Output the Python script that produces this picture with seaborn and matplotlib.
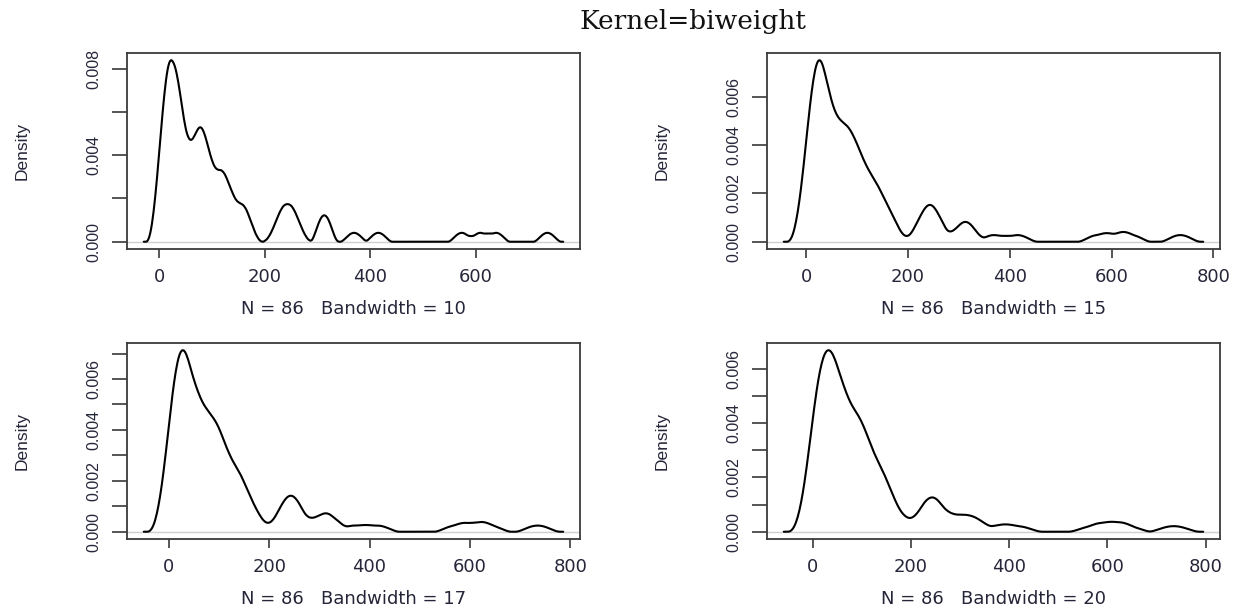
import numpy as np
import pandas as pd
import matplotlib
matplotlib.use("Agg")
import matplotlib.pyplot as plt
import seaborn as sns

# Sample of 86 observations
observations = [
    1, 2, 3, 4, 6, 8, 9,
    11, 12, 14, 15, 17, 18, 19,
    21, 22, 23, 25, 26, 27, 28, 29,
    31, 32, 34, 35, 36, 38, 39,
    41, 43, 45, 47, 49,
    52, 55, 58,
    61, 64, 67, 69,
    71, 73, 75, 77, 79,
    81, 83, 85, 87, 89,
    91, 94, 97,
    101, 106, 109,
    112, 116, 119,
    123, 126, 129,
    132, 137,
    146,
    152, 158,
    165, 170,
    222, 230, 237, 243, 249, 256, 264,
    310, 313, 315,
    369, 415,
    573, 608, 638,
    735,
]
bandwidths = [10, 15, 17, 20]
x_ticks = [0, 200, 400, 600, 800]
y_tick_steps = [0.002, 0.002, 0.001, 0.001]
y_label_every = [2, 1, 2, 2]
title = "Kernel=biweight"

sns.set_style("ticks")
plt.rcParams["font.family"] = ["DejaVu Sans"]

TEXT = "#26263a"
EDGE = "#3a3a3a"
NARROW = ["Liberation Sans", "DejaVu Sans"]


def biweight_density(data, bw, n=512):
    """Biweight kernel density, bw being the kernel's standard deviation."""
    data = np.asarray(data, dtype=float)
    half = bw * np.sqrt(7.0)
    grid = np.linspace(data.min() - 3 * bw, data.max() + 3 * bw, n)
    u = (grid[:, None] - data[None, :]) / half
    k = np.where(np.abs(u) < 1, (15.0 / 16.0) * (1 - u ** 2) ** 2, 0.0)
    return grid, k.sum(axis=1) / (len(data) * half)


W, H = 1239, 609
fig = plt.figure(figsize=(W / 100, H / 100), dpi=100)

# panel boxes in pixels: left, top, right, bottom
boxes = [
    (127, 53, 580, 249),
    (767, 53, 1220, 249),
    (127, 343, 580, 539),
    (767, 343, 1220, 539),
]

for i, (bw, box) in enumerate(zip(bandwidths, boxes)):
    l, t, r, b = box
    ax = fig.add_axes([l / W, 1 - b / H, (r - l) / W, (b - t) / H])
    grid, dens = biweight_density(observations, bw)
    df = pd.DataFrame({"x": grid, "density": dens})

    ax.axhline(0, color="#cfcfcf", lw=1.0, zorder=1)
    sns.lineplot(data=df, x="x", y="density", ax=ax, color="black",
                 lw=1.5, zorder=3)

    lo, hi = grid[0], grid[-1]
    pad = 0.04 * (hi - lo)
    ax.set_xlim(lo - pad, hi + pad)
    ymax = dens.max()
    ax.set_ylim(-0.04 * ymax, 1.04 * ymax)

    ax.set_xticks([v for v in x_ticks if lo - pad <= v <= hi + pad])
    step = y_tick_steps[i]
    n_ticks = int(np.floor(1.04 * ymax / step + 1e-9)) + 1
    yt = [k * step for k in range(n_ticks)]
    ax.set_yticks(yt)
    ax.set_yticklabels([f"{v:.3f}" if k % y_label_every[i] == 0 else ""
                        for k, v in enumerate(yt)],
                       rotation=90, va="center", family=NARROW,
                       fontsize=11.5, color=TEXT)
    for lab in ax.get_xticklabels():
        lab.set_fontsize(13)
        lab.set_color(TEXT)

    ax.tick_params(axis="x", direction="out", length=6.5, width=1.2,
                   color=EDGE, pad=7)
    ax.tick_params(axis="y", direction="out", length=10.5, width=1.2,
                   color=EDGE, pad=8)
    for s in ax.spines.values():
        s.set_visible(True)
        s.set_color(EDGE)
        s.set_linewidth(1.3)

    ax.set_xlabel(f"N = {len(observations)}   Bandwidth = {bw}",
                  fontsize=13, color=TEXT)
    ax.xaxis.set_label_coords(0.5, -60 / (b - t))
    ax.xaxis.label.set_va("center")
    ax.set_ylabel("Density", family=NARROW, fontsize=12.5, color=TEXT)
    ax.yaxis.set_label_coords(-105 / (r - l), 0.5)
    ax.yaxis.label.set_va("center")

fig.text(693 / W, 1 - 21 / H, title, ha="center", va="center",
         family=["DejaVu Serif"], fontsize=19, color="#111111")

fig.savefig("out.png", dpi=100)
